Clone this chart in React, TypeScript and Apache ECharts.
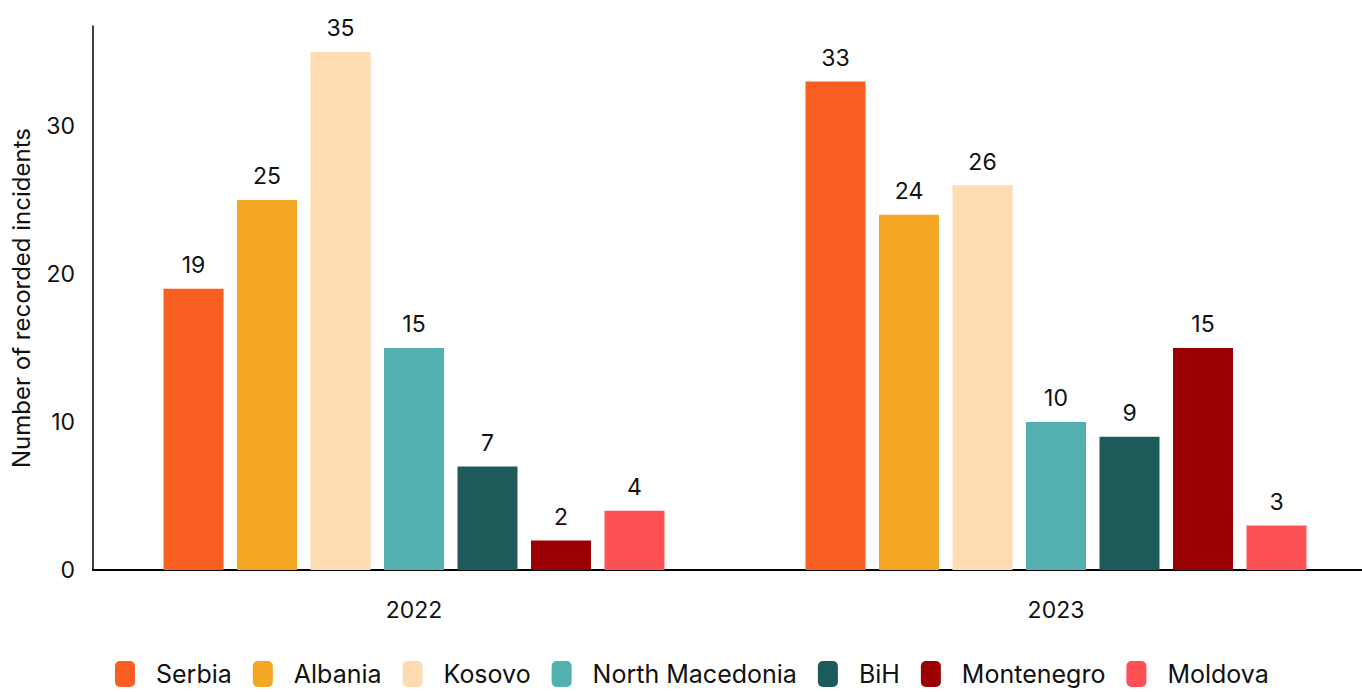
import React, { useEffect, useRef } from "react";
import * as echarts from "echarts";

const years = ["2022", "2023"];
const countries = ["Serbia", "Albania", "Kosovo", "North Macedonia", "BiH", "Montenegro", "Moldova"];
const colors = ["#F95F22", "#F4A724", "#FEDBB2", "#53B1B1", "#1D5A5A", "#9B0004", "#FD5155"];
const values2022 = [19, 25, 35, 15, 7, 2, 4];
const values2023 = [33, 24, 26, 10, 9, 15, 3];
const yTicks = [0, 10, 20, 30];

const FONT = "Inter";
const W = 1377;

export default function App() {
  const ref = useRef<HTMLDivElement>(null);
  useEffect(() => {
    const chart = echarts.init(ref.current!, null, { renderer: "svg" });
    const series = countries.map((c, i) => ({
      name: c,
      type: "bar",
      data: [values2022[i], values2023[i]],
      itemStyle: { color: colors[i] },
      barWidth: 60,
      barGap: "22.5%",
      label: {
        show: true,
        position: "top",
        distance: 12,
        color: "#111",
        fontSize: 23,
        fontFamily: FONT,
      },
    }));
    chart.setOption({
      animation: false,
      textStyle: { fontFamily: FONT },
      grid: { left: 93, right: 0, top: 26, bottom: 122 },
      legend: {
        top: 656,
        left: 110,
        itemWidth: 20,
        itemHeight: 26,
        itemGap: 21,
        icon: "roundRect",
        textStyle: { fontSize: 25, color: "#111", fontFamily: FONT, padding: [0, 0, 0, 16] },
        data: countries,
      },
      xAxis: {
        type: "category",
        data: years,
        axisLine: { lineStyle: { color: "#000", width: 2 } },
        axisTick: { show: false },
        axisLabel: { fontSize: 23, color: "#111", margin: 28, fontFamily: FONT },
      },
      yAxis: {
        type: "value",
        min: 0,
        max: 36.75,
        interval: 10,
        name: "Number of recorded incidents",
        nameLocation: "middle",
        nameGap: 60,
        nameTextStyle: { fontSize: 24, color: "#111", fontFamily: FONT },
        axisLine: { show: true, lineStyle: { color: "#000", width: 1.5 } },
        axisTick: { show: false },
        splitLine: { show: false },
        axisLabel: {
          fontSize: 23,
          color: "#111",
          margin: 18,
          fontFamily: FONT,
          showMaxLabel: false,
          formatter: (v: number) => (yTicks.includes(v) ? String(v) : ""),
        },
      },
      series,
    });
    return () => chart.dispose();
  }, []);
  return (
    <div style={{ position: "absolute", left: 0, top: 0, width: 1362, height: 692, overflow: "hidden", background: "#fff" }}>
      <div ref={ref} style={{ width: W, height: 692 }} />
    </div>
  );
}
